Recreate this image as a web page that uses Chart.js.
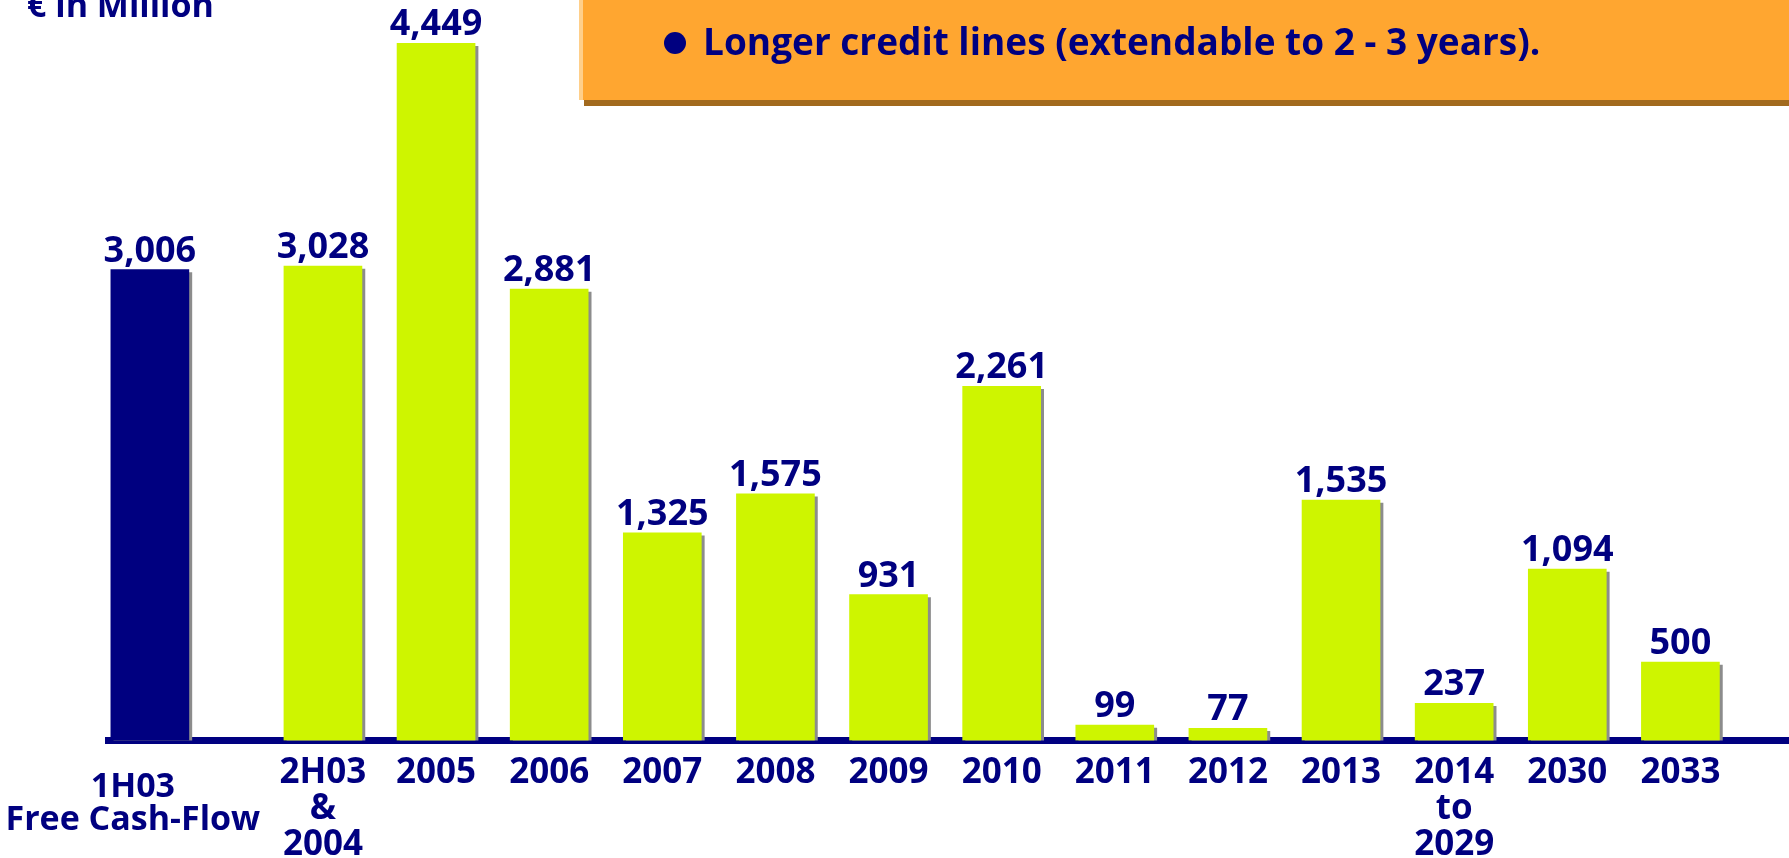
<!DOCTYPE html>
<html>
<head>
<meta charset="utf-8">
<script src="https://cdn.jsdelivr.net/npm/chart.js@4.4.1/dist/chart.umd.min.js"></script>
<style>
  html, body { margin: 0; padding: 0; background: #fff; }
</style>
</head>
<body>
<canvas id="barCanvas" width="1789" height="858"></canvas>
<script>
const categories = ['1H03', '2H03 & 2004', '2005', '2006', '2007', '2008', '2009', '2010', '2011', '2012', '2013', '2014 to 2029', '2030', '2033'];
const tickLabels = [['1H03', 'Free Cash-Flow'], ['2H03', '&', '2004'], '2005', '2006', '2007', '2008', '2009', '2010', '2011', '2012', '2013', ['2014', 'to', '2029'], '2030', '2033'];
const maturities = [3006, 3028, 4449, 2881, 1325, 1575, 931, 2261, 99, 77, 1535, 237, 1094, 500];
const unitLabel = '€ in Million';
const noteText = 'Longer credit lines (extendable to 2 - 3 years).';

const navy = '#000080';
const lime = '#cef500';

// the cash-flow bar stands a bit apart from the maturities
const slot = categories.map((c, i) => i === 0 ? 0 : i + 0.53);

const barShadow = {
  id: 'barShadow',
  beforeDatasetsDraw(chart) {
    const ctx = chart.ctx;
    ctx.save();
    ctx.shadowColor = '#8c8c8c';
    ctx.shadowOffsetX = 3;
    ctx.shadowOffsetY = 3;
    ctx.shadowBlur = 0;
  },
  afterDatasetsDraw(chart) {
    const ctx = chart.ctx;
    ctx.restore();
    ctx.save();
    ctx.font = 'bold 36px "Open Sans"';
    ctx.fillStyle = navy;
    ctx.textAlign = 'center';
    ctx.textBaseline = 'alphabetic';
    chart.getDatasetMeta(0).data.forEach((bar, i) => {
      ctx.fillText(maturities[i].toLocaleString('en-US'), bar.x, bar.y - 8);
    });
    ctx.restore();
  }
};

const slideText = {
  id: 'slideText',
  afterDraw(chart) {
    const ctx = chart.ctx;
    ctx.save();
    // orange note box
    ctx.fillStyle = '#a26a1e';
    ctx.fillRect(584, 100, 1789 - 584, 6);
    ctx.fillStyle = '#ffa630';
    ctx.fillRect(579, 0, 1789 - 579, 100);
    ctx.fillStyle = '#ffcf8a';
    ctx.fillRect(579, 0, 4, 100);

    ctx.fillStyle = navy;
    ctx.beginPath();
    ctx.arc(675, 43, 11, 0, Math.PI * 2);
    ctx.fill();
    ctx.font = 'bold 37px "Open Sans"';
    ctx.textAlign = 'left';
    ctx.textBaseline = 'alphabetic';
    ctx.fillText(noteText, 703, 55);

    ctx.font = 'bold 34px "Open Sans"';
    ctx.fillText(unitLabel, 27, 17);

    // first label sits slightly left and lower than its bar
    const x0 = chart.scales.x.getPixelForValue(slot[0]) - 17;
    ctx.textAlign = 'center';
    ctx.fillText(tickLabels[0][0], x0, 797);
    ctx.fillText(tickLabels[0][1], x0, 830);
    ctx.restore();
  }
};

new Chart(document.getElementById('barCanvas'), {
  type: 'bar',
  data: {
    datasets: [{
      data: maturities.map((v, i) => ({ x: slot[i], y: v })),
      backgroundColor: categories.map((c, i) => i === 0 ? navy : lime),
      borderWidth: 0,
      barThickness: 78
    }]
  },
  options: {
    responsive: false,
    maintainAspectRatio: false,
    animation: false,
    layout: {
      padding: { left: 108, right: 0, top: 0, bottom: 0 }
    },
    scales: {
      x: {
        type: 'linear',
        bounds: 'data',
        offset: false,
        min: -0.37,
        max: 14.49,
        z: 1,
        grid: { display: true, color: 'rgba(0,0,0,0)', drawOnChartArea: false, drawTicks: false, offset: false },
        border: { display: true, color: navy, width: 7 },
        afterBuildTicks: (scale) => {
          scale.ticks = slot.map(v => ({ value: v }));
        },
        afterFit: (scale) => {
          scale.height = 117.5;
        },
        ticks: {
          autoSkip: false,
          maxRotation: 0,
          padding: 15,
          color: navy,
          font: { family: '"Open Sans"', size: 35, weight: 'bold', lineHeight: 1.023 },
          callback: (value, index) => index === 0 ? '' : tickLabels[index]
        }
      },
      y: {
        display: false,
        min: 0,
        max: 4726
      }
    },
    plugins: {
      legend: { display: false },
      tooltip: { enabled: false }
    }
  },
  plugins: [barShadow, slideText]
});
</script>
</body>
</html>
